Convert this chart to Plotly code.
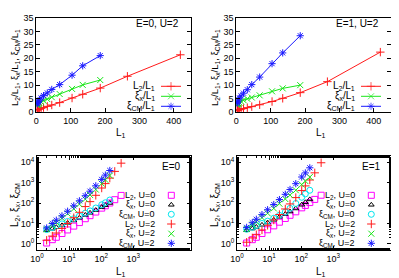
import plotly.graph_objects as go

# ---------------- data ----------------
L1 = [2, 3, 4, 6, 9, 14, 21, 32, 45, 68, 104, 135, 186]
L1_long = [2, 3, 4, 6, 9, 14, 21, 32, 45, 68, 104, 135, 186, 265, 419]

# top panels: ratios (U=2)
r_L2_E0 = [0.75, 0.8, 0.85, 0.95, 1.1, 1.35, 1.65, 2.1, 2.6, 3.5, 5.2, 6.6, 8.9, 13.3, 21.3]
r_xx_E0 = [2.6, 2.7, 2.8, 3.0, 3.3, 3.7, 4.2, 4.8, 5.5, 6.7, 8.6, 10.1, 11.9]
r_cm_E0 = [3.0, 3.3, 3.6, 3.9, 4.4, 5.2, 6.1, 7.1, 8.4, 10.2, 13.7, 17.2, 21.0]

r_L2_E1 = [0.6, 0.65, 0.7, 0.8, 0.9, 1.05, 1.3, 1.6, 2.0, 2.7, 3.9, 5.1, 7.2, 11.3, 22.3]
r_xx_E1 = [2.7, 2.9, 3.0, 3.2, 3.5, 3.9, 4.4, 4.9, 5.4, 6.2, 7.7, 8.8, 10.0]
r_cm_E1 = [3.2, 3.6, 4.0, 4.5, 5.2, 6.0, 7.0, 8.3, 10.2, 13.0, 18.0, 22.0, 28.4]

# bottom panels: absolute values
L2_U0_E0 = [1.1, 1.6, 2.1, 3.2, 4.8, 7.4, 11, 17, 24, 36, 56, 73, 100, 145, 235]
xx_U0_E0 = [4.6, 5.5, 6.5, 8.0, 10.5, 14, 19, 26, 33, 45, 63, 78, 100]
cm_U0_E0 = [5.0, 6.3, 7.5, 9.5, 12.5, 17, 23, 32, 41, 57, 82, 103, 140]
L2_U2_E0 = [1.5, 2.4, 3.4, 5.7, 9.9, 19, 35, 67, 117, 238, 541, 891, 1655, 3525, 8925]
xx_U2_E0 = [5.2, 8.1, 11.2, 18, 30, 52, 88, 154, 248, 456, 894, 1364, 2213]
cm_U2_E0 = [6.0, 9.9, 14.4, 23.4, 39.6, 72.8, 128, 227, 378, 694, 1425, 2322, 3906]

L2_U0_E1 = [1.1, 1.6, 2.1, 3.2, 4.9, 7.6, 11.5, 17.5, 25, 37, 58, 76, 105, 150, 240]
xx_U0_E1 = [4.6, 5.6, 6.7, 8.5, 11, 15, 21, 29, 38, 54, 82, 108, 150]
cm_U0_E1 = [5.2, 6.5, 7.8, 10, 13, 18, 25, 36, 55, 95, 190, 280, 420]
L2_U2_E1 = [1.2, 1.95, 2.8, 4.8, 8.1, 14.7, 27.3, 51, 90, 184, 406, 689, 1339, 2995, 9344]
xx_U2_E1 = [5.4, 8.7, 12, 19.2, 31.5, 54.6, 92.4, 157, 243, 422, 801, 1188, 1860]
cm_U2_E1 = [6.4, 10.8, 16, 27, 46.8, 84, 147, 266, 459, 884, 1872, 2970, 5282]

lin_xticks = [0, 100, 200, 300, 400]
lin_yticks = [0, 5, 10, 15, 20, 25, 30, 35]
log_xticks = [1, 10, 100, 1000]
log_xtext = ["10<sup>0</sup>", "10<sup>1</sup>", "10<sup>2</sup>", "10<sup>3</sup>"]
log_yticks = [1, 10, 100, 1000, 10000]
log_ytext = ["10<sup>0</sup>", "10<sup>1</sup>", "10<sup>2</sup>", "10<sup>3</sup>", "10<sup>4</sup>"]

top_labels = ["L<sub>2</sub>/L<sub>1</sub>", "ξ<sub>x</sub>/L<sub>1</sub>", "ξ<sub>CM</sub>/L<sub>1</sub>"]
bot_labels = ["L<sub>2</sub>, U=0", "ξ<sub>x</sub>, U=0", "ξ<sub>CM</sub>, U=0",
              "L<sub>2</sub>, U=2", "ξ<sub>x</sub>, U=2", "ξ<sub>CM</sub>, U=2"]

# ---------------- styles ----------------
W, H = 399, 278
RED, GREEN, BLUE = "#ff1a1a", "#19e619", "#1a1aff"
MAG, BLK, CYAN = "#ff00ff", "#000000", "#00e5ee"
FONT = "Liberation Sans, Arial, sans-serif"

top_styles = [(RED, "cross-thin-open"), (GREEN, "x-thin-open"), (BLUE, "asterisk-open")]
bot_styles = [(MAG, "square-open", 6), (BLK, "triangle-up-open", 5), (CYAN, "circle-open", 6),
              (RED, "cross-thin-open", 6), (GREEN, "x-thin-open", 6), (BLUE, "asterisk-open", 6)]

fig = go.Figure()

def px(x):
    return x / W

def py(y):
    return 1 - y / H

# panel boxes in pixels: (x0, x1, ytop, ybottom)
panels = {
    1: (28.3, 183, 10, 104),
    2: (228.3, 383, 10, 104),
    3: (29, 183, 148, 242),
    4: (229, 383, 148, 242),
}

axis_common = dict(showline=True, linecolor="black", linewidth=1, mirror="ticks",
                   ticks="inside", ticklen=4, tickcolor="black", showgrid=False,
                   zeroline=False, automargin=False,
                   tickfont=dict(family=FONT, size=9, color="black"))

for i, (x0, x1, yt, yb) in panels.items():
    xa = dict(axis_common, domain=[px(x0), px(x1)], anchor=f"y{i}" if i > 1 else "y")
    ya = dict(axis_common, domain=[py(yb), py(yt)], anchor=f"x{i}" if i > 1 else "x")
    if i <= 2:
        xa.update(range=[0, 450], tickvals=lin_xticks, mirror=True)
        ya.update(range=[0, 35], tickvals=lin_yticks)
    else:
        xa.update(type="log", range=[0, 4.8], tickvals=log_xticks, ticktext=log_xtext,
                  minor=dict(ticks="inside", ticklen=2, tickcolor="black"))
        ya.update(type="log", range=[-0.301, 4.301], tickvals=log_yticks, ticktext=log_ytext,
                  minor=dict(ticks="inside", ticklen=2, tickcolor="black"))
    key = "" if i == 1 else str(i)
    fig.layout["xaxis" + key] = xa
    fig.layout["yaxis" + key] = ya

# ---------------- top panels ----------------
def add_top(series, xref, yref):
    xs = [L1_long, L1, L1]
    for (col, sym), x, yv in zip(top_styles, xs, series):
        fig.add_trace(go.Scatter(x=x, y=yv, mode="lines+markers", xaxis=xref, yaxis=yref,
                                 line=dict(color=col, width=1),
                                 marker=dict(symbol=sym, size=6, color=col,
                                             line=dict(color=col, width=1)),
                                 showlegend=False))

add_top([r_L2_E0, r_xx_E0, r_cm_E0], "x", "y")
add_top([r_L2_E1, r_xx_E1, r_cm_E1], "x2", "y2")

# ---------------- bottom panels ----------------
def add_bot(series, xref, yref):
    xs = [L1_long, L1, L1, L1_long, L1, L1]
    for (col, sym, sz), x, yv in zip(bot_styles, xs, series):
        fig.add_trace(go.Scatter(x=x, y=yv, mode="markers", xaxis=xref, yaxis=yref,
                                 marker=dict(symbol=sym, size=sz, color=col,
                                             line=dict(color=col, width=1)),
                                 showlegend=False))

add_bot([L2_U0_E0, xx_U0_E0, cm_U0_E0, L2_U2_E0, xx_U2_E0, cm_U2_E0], "x3", "y3")
add_bot([L2_U0_E1, xx_U0_E1, cm_U0_E1, L2_U2_E1, xx_U2_E1, cm_U2_E1], "x4", "y4")

# ---------------- overlay axis in pixel units for legends ----------------
fig.layout["xaxis5"] = dict(domain=[0, 1], range=[0, W], visible=False, anchor="y5", fixedrange=True)
fig.layout["yaxis5"] = dict(domain=[0, 1], range=[H, 0], visible=False, anchor="x5", fixedrange=True)

annotations = []
def ann(x, y, text, xanchor="center", size=10, angle=0):
    annotations.append(dict(x=x, y=y, xref="x5", yref="y5", text=text, showarrow=False,
                            xanchor=xanchor, yanchor="middle", textangle=angle,
                            font=dict(family=FONT, size=size, color="black")))

# top legends
for dx in (0, 200):
    rows = [78.3, 88.3, 98.3]
    for (col, sym), lab, yy in zip(top_styles, top_labels, rows):
        ann(148.5 + dx, yy, lab, xanchor="right")
        fig.add_trace(go.Scatter(x=[153 + dx, 163 + dx, 173 + dx], y=[yy, yy, yy],
                                 mode="lines+markers", xaxis="x5", yaxis="y5",
                                 line=dict(color=col, width=1),
                                 marker=dict(symbol=sym, size=[0, 6, 0], color=col,
                                             line=dict(color=col, width=1)),
                                 showlegend=False, hoverinfo="skip"))

# bottom legends
for dx in (0, 200):
    rows = [187.3, 196.8, 206.3, 216.0, 225.7, 235.3]
    for (col, sym, sz), lab, yy in zip(bot_styles, bot_labels, rows):
        ann(148.5 + dx, yy, lab, xanchor="right", size=9)
        fig.add_trace(go.Scatter(x=[163.3 + dx], y=[yy], mode="markers",
                                 xaxis="x5", yaxis="y5",
                                 marker=dict(symbol=sym, size=sz, color=col,
                                             line=dict(color=col, width=1)),
                                 showlegend=False, hoverinfo="skip"))

# panel labels
ann(173, 15.5, "E=0, U=2", xanchor="right")
ann(373, 15.5, "E=1, U=2", xanchor="right")
ann(175, 158, "E=0", xanchor="right")
ann(375, 158, "E=1", xanchor="right")

# axis titles
ann(113, 125, "L<sub>1</sub>")
ann(313, 125, "L<sub>1</sub>")
ann(113, 264, "L<sub>1</sub>")
ann(313, 264, "L<sub>1</sub>")
ytop = "L<sub>2</sub>/L<sub>1</sub>, ξ<sub>x</sub>/L<sub>1</sub>, ξ<sub>CM</sub>/L<sub>1</sub>"
ybot = "L<sub>2</sub>, ξ<sub>x</sub>, ξ<sub>CM</sub>"
ann(7, 60, ytop, angle=-90, size=9.5)
ann(207, 60, ytop, angle=-90, size=9.5)
ann(7, 197, ybot, angle=-90)
ann(207, 197, ybot, angle=-90)

fig.update_layout(width=W, height=H, margin=dict(l=0, r=0, t=0, b=0),
                  paper_bgcolor="white", plot_bgcolor="rgba(0,0,0,0)",
                  annotations=annotations, showlegend=False)

fig.write_html("out.html")
